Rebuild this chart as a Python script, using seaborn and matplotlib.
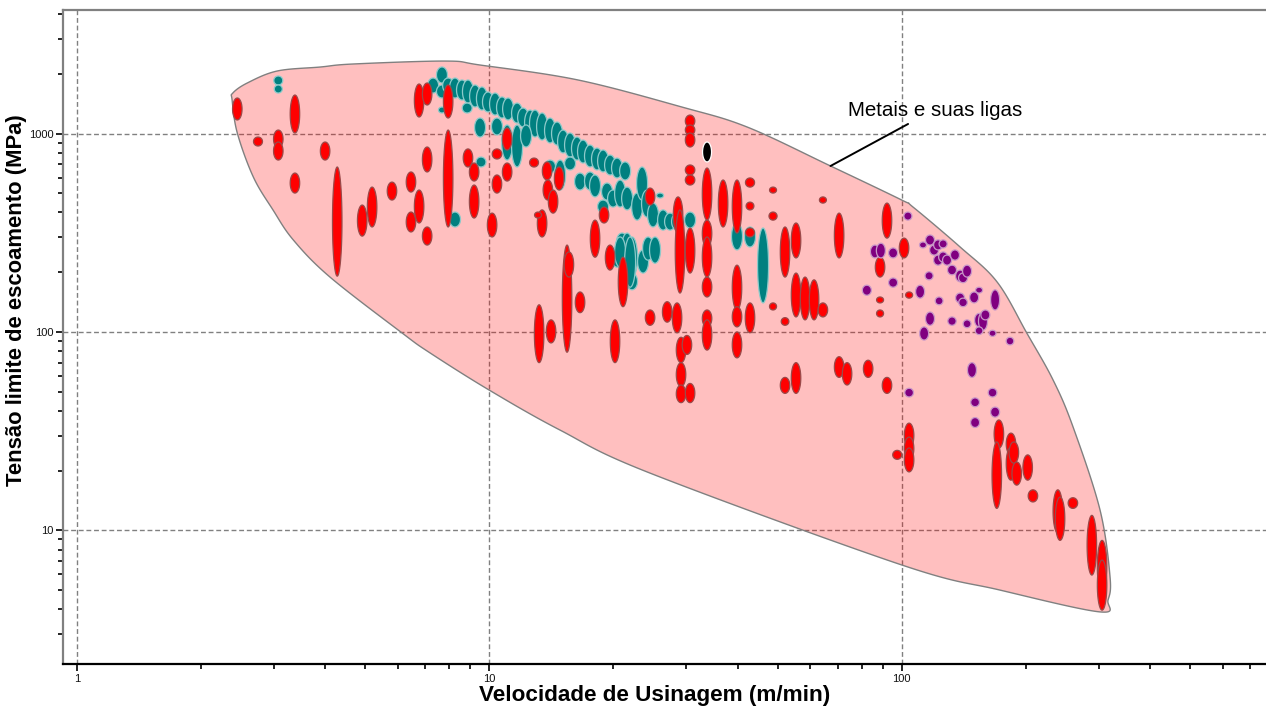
import numpy as np
import matplotlib
matplotlib.use("Agg")
import matplotlib.pyplot as plt
import seaborn as sns
from matplotlib.ticker import FixedLocator, FixedFormatter, LogLocator, NullFormatter

# ---------------- data ----------------
# each entry: (cutting speed m/min, yield strength min MPa, yield strength max MPa)
red_alloys = [
    (2.45, 1170, 1510), (2.75, 865, 960), (3.08, 845, 1041), (3.08, 735, 906),
    (3.38, 1006, 1563), (3.38, 501, 632), (4.0, 735, 906), (4.28, 191, 678),
    (4.92, 304, 436), (5.20, 338, 537), (5.81, 462, 569), (6.46, 507, 640),
    (6.46, 319, 402), (6.76, 354, 519), (7.07, 640, 855), (7.07, 274, 338),
    (6.76, 1211, 1776), (7.07, 1392, 1797), (7.95, 1197, 1756), (7.95, 338, 1041),
    (8.88, 678, 836), (9.19, 576, 710), (9.19, 375, 550), (10.16, 301, 397),
    (10.44, 744, 836), (10.44, 501, 618), (11.05, 826, 1066), (11.05, 576, 710),
    (12.84, 678, 752), (13.81, 583, 719), (14.77, 519, 678), (13.87, 462, 583),
    (14.28, 397, 519), (13.43, 301, 412), (13.13, 375, 402), (18.05, 238, 366),
    (18.98, 354, 426), (19.63, 205, 274), (24.54, 436, 531), (28.69, 315, 479),
    (29.0, 157, 412), (30.68, 198, 334), (30.68, 1079, 1239), (30.68, 983, 1104),
    (30.68, 855, 1006), (30.68, 618, 694), (30.68, 550, 618), (33.73, 366, 670),
    (33.73, 268, 366), (33.73, 189, 301), (33.73, 150, 189), (33.73, 106, 129),
    (33.73, 81, 115), (36.89, 338, 583), (39.87, 315, 583), (42.87, 537, 597),
    (42.87, 412, 451), (42.87, 301, 334), (48.75, 501, 537), (48.75, 366, 402),
    (52.13, 189, 338), (55.43, 236, 354), (55.43, 119, 198), (39.87, 129, 217),
    (39.87, 106, 134), (39.87, 74, 100), (42.87, 99, 140), (48.75, 129, 140),
    (52.13, 108, 118), (58.3, 115, 189), (61.3, 115, 183), (64.4, 119, 140),
    (64.4, 446, 479), (70.5, 236, 397), (70.5, 59, 75), (73.7, 54, 70),
    (82.9, 59, 72), (92.1, 49, 59), (88.6, 189, 238), (88.6, 140, 150),
    (88.6, 119, 129), (92.1, 297, 446), (101.3, 236, 297), (104.2, 148, 159),
    (52.13, 49, 59), (55.43, 49, 70), (20.18, 70, 115), (21.1, 134, 238),
    (24.54, 108, 129), (27.0, 112, 142), (28.53, 99, 140), (29.17, 70, 94),
    (29.17, 53, 70), (29.17, 44, 54), (30.68, 44, 55), (30.15, 77, 96),
    (13.21, 70, 137), (14.12, 88, 115), (15.44, 79, 274), (15.6, 189, 253),
    (16.6, 125, 159), (104.2, 26.0, 34.7), (104.2, 22.6, 29.5), (104.2, 19.7, 26.0),
    (97.5, 22.8, 25.3), (172, 26.0, 36.0), (170, 12.9, 27.9), (184, 24.0, 30.9),
    (184, 17.9, 26.3), (187, 21.8, 27.9), (190, 16.9, 22.1), (202, 17.9, 24.0),
    (208, 13.9, 16.0), (239, 9.7, 16.0), (242, 8.9, 14.7), (260, 12.9, 14.6),
    (289, 5.95, 11.9), (306, 4.83, 8.9), (306, 3.96, 7.08),
]

teal_alloys = [
    (3.08, 1756, 1949), (3.08, 1600, 1756), (7.31, 1600, 1904), (7.68, 1797, 2164),
    (7.68, 1510, 1756), (7.95, 1600, 1904), (8.26, 1510, 1904), (8.59, 1475, 1861),
    (8.88, 1424, 1861), (9.24, 1360, 1756), (9.60, 1313, 1716), (9.93, 1284, 1619),
    (10.33, 1239, 1600), (10.74, 1197, 1528), (11.11, 1170, 1510), (11.68, 1130, 1424),
    (12.08, 1079, 1344), (12.56, 983, 1313), (12.91, 960, 1313), (13.43, 927, 1269),
    (14.04, 896, 1197), (14.60, 875, 1143), (15.10, 798, 1041), (15.70, 761, 1006),
    (16.32, 735, 960), (16.88, 710, 927), (17.55, 678, 875), (18.25, 655, 845),
    (18.88, 640, 826), (19.63, 618, 779), (20.41, 597, 752), (21.35, 583, 719),
    (7.68, 1269, 1360), (8.84, 1269, 1424), (9.50, 960, 1197), (10.44, 983, 1197),
    (11.05, 735, 1104), (11.68, 678, 1104), (12.28, 855, 1104), (9.55, 678, 761),
    (8.26, 338, 402), (14.04, 632, 735), (14.85, 519, 735), (15.70, 655, 761),
    (16.60, 519, 632), (17.55, 519, 640), (18.05, 479, 618), (18.88, 397, 462),
    (19.30, 462, 563), (19.96, 426, 519), (20.76, 426, 583), (21.59, 412, 537),
    (22.83, 366, 501), (23.47, 462, 678), (24.13, 379, 519), (24.95, 338, 446),
    (25.95, 473, 501), (26.39, 326, 412), (27.44, 326, 397), (28.53, 326, 397),
    (30.68, 334, 402), (20.41, 212, 268), (20.99, 259, 315), (21.59, 222, 315),
    (22.19, 189, 301), (22.19, 163, 198), (23.60, 198, 259), (24.27, 230, 301),
    (25.23, 222, 301), (20.76, 212, 301), (21.95, 168, 301), (39.87, 259, 354),
    (42.87, 268, 338), (46.11, 140, 334),
]

purple_alloys = [
    (148, 59, 70), (104.2, 47, 52), (150.6, 42, 46.5), (150.6, 33, 37),
    (166, 47, 52), (168.4, 37.2, 41.8), (103.5, 366, 402), (86.1, 236, 274),
    (89, 236, 280), (95.3, 236, 265), (95.3, 168, 187), (82.3, 153, 172),
    (112.6, 265, 284), (117.1, 274, 308), (119.8, 244, 274), (122.5, 259, 291),
    (126, 265, 291), (122.5, 217, 244), (126, 225, 253), (128.8, 217, 244),
    (134.6, 230, 259), (132.4, 194, 217), (138.5, 179, 205), (140.8, 177, 198),
    (144, 189, 217), (116.5, 183, 201), (110.8, 148, 172), (123.2, 137, 150),
    (138.5, 140, 157), (140.8, 134, 148), (149.8, 140, 159), (154, 157, 168),
    (168.4, 129, 163), (117.1, 108, 126), (132.4, 108, 119), (144, 105, 115),
    (154, 106, 124), (157.4, 102, 126), (159.5, 115, 129), (154, 97, 106),
    (166, 95, 102), (183, 86, 94), (113.3, 91, 106),
]

black_alloys = [(33.73, 719, 906)]

# envelope "Metais e suas ligas"
envelope_speed = [2.38, 2.39, 2.59, 3.06, 3.89, 4.67, 7.85, 9.5, 16.4, 29.3, 42.2,
                  67.2, 100, 106.5, 138.5, 170.3, 201, 232.8, 260.2, 302.5, 319.9,
                  316.3, 302.5, 173, 100, 24.5, 14.85, 10.0, 7.19, 6.15, 4.11,
                  3.35, 2.99, 2.68, 2.45]
envelope_stress = [1475, 1600, 1797, 2065, 2163, 2240, 2318, 2214, 1862, 1360, 1078,
                   686, 462, 426, 268, 178.5, 98.7, 57.2, 33.2, 12.66, 5.82,
                   4.45, 3.88, 5.0, 6.69, 19.45, 32.0, 50.9, 78.3, 98.7, 189,
                   290.6, 412, 603, 1006]

label_text = "Metais e suas ligas"
label_pos = (120.4, 1313)
leader_start = (103.6, 1117)
leader_end = (67.2, 686)

x_ticks = [1, 10, 100]
x_ticklabels = ["1", "10", "100"]
y_ticks = [10, 100, 1000]
y_ticklabels = ["10", "100", "1000"]

# ---------------- style ----------------
sns.set_theme(style="white")
plt.rcParams["font.family"] = ["Liberation Sans", "DejaVu Sans"]

W, H = 1266, 708
fig = plt.figure(figsize=(W / 100, H / 100), dpi=100)
ax = fig.add_axes([63 / W, 1 - 664 / H, 1 - 63 / W, (664 - 9.5) / H])
ax.set_xscale("log")
ax.set_yscale("log")
ax.set_xlim(0.926, 764)
ax.set_ylim(2.12, 4217)

ax.xaxis.set_major_locator(FixedLocator(x_ticks))
ax.xaxis.set_major_formatter(FixedFormatter(x_ticklabels))
ax.yaxis.set_major_locator(FixedLocator(y_ticks))
ax.yaxis.set_major_formatter(FixedFormatter(y_ticklabels))
for axis in (ax.xaxis, ax.yaxis):
    axis.set_minor_locator(LogLocator(base=10, subs=np.arange(2, 10)))
    axis.set_minor_formatter(NullFormatter())
ax.tick_params(which="both", bottom=True, left=True, top=False, right=False)
ax.tick_params(which="major", direction="out", length=5, width=1.2, color="black",
               labelsize=8, labelcolor="#111111", pad=2)
ax.tick_params(which="minor", direction="out", length=3.5, width=1.2, color="black")

ax.set_axisbelow(True)
ax.grid(which="major", linestyle=(0, (3.5, 2)), color="#808080", linewidth=1.0)

sns.despine(ax=ax, top=False, right=True)
for side in ("left", "top"):
    ax.spines[side].set_color("#808080")
    ax.spines[side].set_linewidth(1.6)
ax.spines["bottom"].set_color("black")
ax.spines["bottom"].set_linewidth(1.6)


# envelope: smooth closed Catmull-Rom curve through the outline points (in log space)
def smooth_closed(xs, ys, n=24):
    P = np.column_stack([np.log10(xs), np.log10(ys)])
    m = len(P)
    out = []
    for i in range(m):
        p0, p1, p2, p3 = P[i - 1], P[i], P[(i + 1) % m], P[(i + 2) % m]
        t = np.linspace(0, 1, n, endpoint=False)[:, None]
        seg = 0.5 * ((2 * p1) + (-p0 + p2) * t + (2 * p0 - 5 * p1 + 4 * p2 - p3) * t ** 2
                     + (-p0 + 3 * p1 - 3 * p2 + p3) * t ** 3)
        out.append(seg)
    out = np.vstack(out)
    return 10 ** out[:, 0], 10 ** out[:, 1]


ex, ey = smooth_closed(envelope_speed, envelope_stress)
ax.fill(ex, ey, facecolor=(1.0, 0.0, 0.0, 0.25), edgecolor="#808080", linewidth=1.0, zorder=1)

# ellipses (width fixed in screen pixels, height given by the stress range)
theta = np.linspace(0, 2 * np.pi, 72)


def draw_ellipses(items, fc, ec, width_px, z):
    inv = ax.transData.inverted()
    for x, lo, hi in items:
        (cx, y0), (_, y1) = ax.transData.transform([(x, lo), (x, hi)])
        cy = 0.5 * (y0 + y1)
        h = abs(y1 - y0)
        w = min(width_px, max(h, 7))
        pts = np.column_stack([cx + 0.5 * w * np.cos(theta), cy + 0.5 * h * np.sin(theta)])
        d = inv.transform(pts)
        ax.fill(d[:, 0], d[:, 1], facecolor=fc, edgecolor=ec, linewidth=0.9, zorder=z)


draw_ellipses(teal_alloys, "#008080", "#8CCACA", 11.0, 3)
draw_ellipses(red_alloys, "#FF0000", "#9A4A4A", 9.5, 4)
draw_ellipses(purple_alloys, "#800080", "#C898C8", 9.0, 5)
draw_ellipses(black_alloys, "#000000", "#FFFFFF", 9.0, 6)

# annotation
ax.annotate("", xy=leader_end, xytext=leader_start,
            arrowprops=dict(arrowstyle="-", color="black", lw=1.4, shrinkA=0, shrinkB=0),
            zorder=7)
ax.text(label_pos[0], label_pos[1], label_text, ha="center", va="center",
        fontsize=14.8, color="black", zorder=7)

fig.text(655 / W, 1 - 695 / H, "Velocidade de Usinagem (m/min)", ha="center", va="center",
         fontsize=16.2, fontweight="bold", color="black")
fig.text(17 / W, 1 - 300 / H, "Tensão limite de escoamento (MPa)", ha="center", va="center",
         rotation=90, fontsize=15.8, fontweight="bold", color="black")

fig.savefig("out.png", dpi=100)
